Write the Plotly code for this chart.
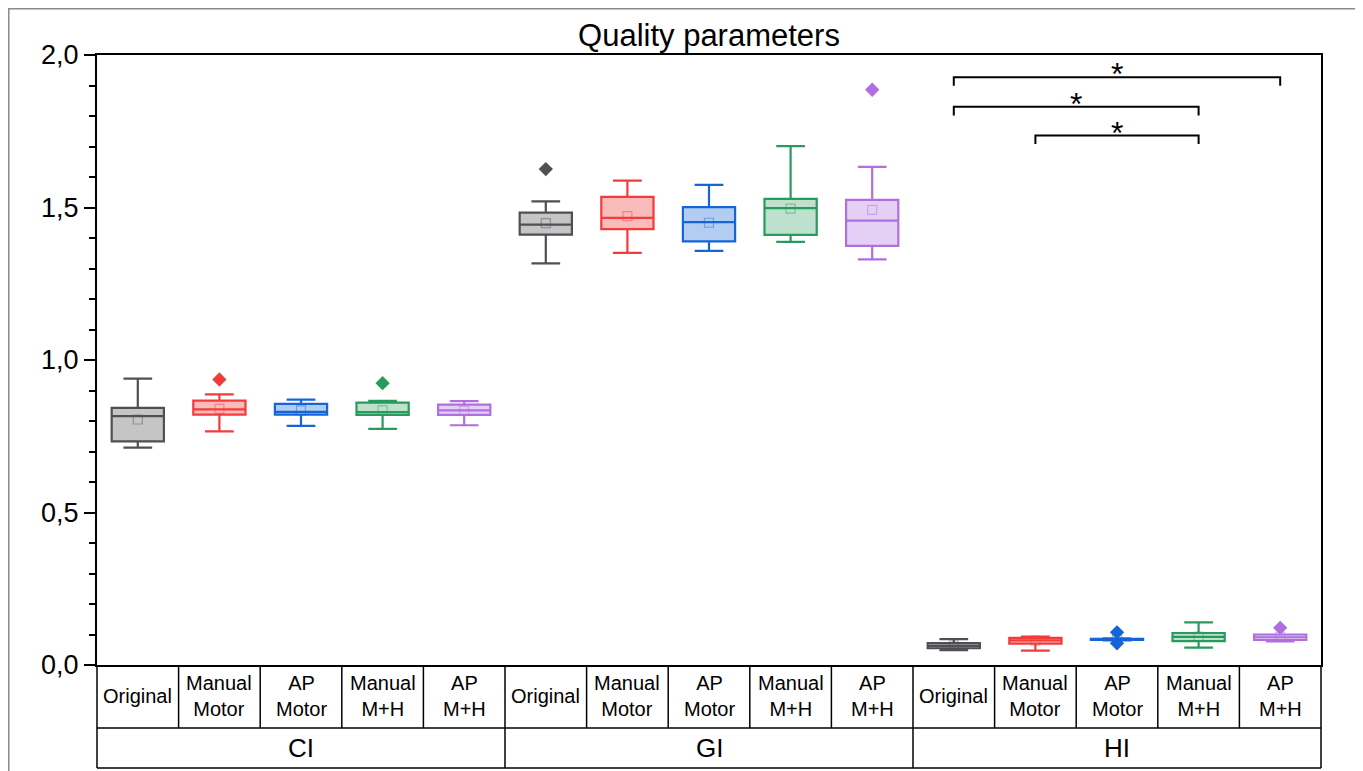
import plotly.graph_objects as go

# ---------------- data ----------------
groups = ["CI", "GI", "HI"]
methods = ["Original", "Manual<br>Motor", "AP<br>Motor", "Manual<br>M+H", "AP<br>M+H"]

# per group, per method (order: Original, Manual Motor, AP Motor, Manual M+H, AP M+H)
ci_lower  = [0.713, 0.766, 0.784, 0.774, 0.786]
ci_q1     = [0.733, 0.821, 0.821, 0.820, 0.820]
ci_median = [0.816, 0.838, 0.830, 0.829, 0.835]
ci_q3     = [0.843, 0.867, 0.856, 0.860, 0.854]
ci_upper  = [0.939, 0.887, 0.870, 0.866, 0.865]
ci_mean   = [0.805, 0.840, 0.835, 0.835, 0.833]

gi_lower  = [1.317, 1.351, 1.358, 1.387, 1.330]
gi_q1     = [1.411, 1.429, 1.389, 1.410, 1.374]
gi_median = [1.444, 1.466, 1.452, 1.498, 1.457]
gi_q3     = [1.483, 1.535, 1.501, 1.528, 1.525]
gi_upper  = [1.520, 1.588, 1.574, 1.701, 1.633]
gi_mean   = [1.449, 1.472, 1.450, 1.496, 1.492]

hi_lower  = [0.049, 0.047, 0.081, 0.057, 0.077]
hi_q1     = [0.055, 0.070, 0.082, 0.078, 0.082]
hi_median = [0.063, 0.081, 0.084, 0.092, 0.091]
hi_q3     = [0.072, 0.089, 0.086, 0.105, 0.100]
hi_upper  = [0.085, 0.093, 0.087, 0.140, 0.100]
hi_mean   = [0.064, 0.080, 0.084, 0.093, 0.092]

# outliers: (group index, method index, value)
out_group  = [0, 0, 1, 1, 2, 2, 2]
out_method = [1, 3, 0, 4, 2, 2, 4]
out_value  = [0.936, 0.924, 1.626, 1.886, 0.107, 0.071, 0.122]

# significance brackets in HI group: (from method, to method, height)
sig_from   = [0, 0, 1]
sig_to     = [4, 3, 3]
sig_height = [1.927, 1.830, 1.736]
sig_label  = ["*", "*", "*"]

line_colors = ["#4f4f55", "#f23c3c", "#1565d8", "#279b5c", "#b06fe0"]
fill_colors = ["rgba(150,150,150,0.55)", "rgba(242,60,60,0.35)", "rgba(21,101,216,0.33)",
               "rgba(39,155,92,0.30)", "rgba(176,111,224,0.33)"]

stats = {
    0: (ci_lower, ci_q1, ci_median, ci_q3, ci_upper, ci_mean),
    1: (gi_lower, gi_q1, gi_median, gi_q3, gi_upper, gi_mean),
    2: (hi_lower, hi_q1, hi_median, hi_q3, hi_upper, hi_mean),
}

FONT = "Liberation Sans, Arial, sans-serif"
nM = len(methods)
nC = len(groups) * nM

fig = go.Figure()

for g in range(len(groups)):
    lo, q1, me, q3, up, mn = stats[g]
    for m in range(nM):
        pos = g * nM + m
        fig.add_trace(go.Box(
            x=[pos], q1=[q1[m]], median=[me[m]], q3=[q3[m]],
            lowerfence=[lo[m]], upperfence=[up[m]],
            boxpoints=False, width=0.64, whiskerwidth=0.55,
            line=dict(color=line_colors[m], width=2.2),
            fillcolor=fill_colors[m], showlegend=False, hoverinfo="skip",
        ))
        fig.add_trace(go.Scatter(
            x=[pos], y=[mn[m]], mode="markers",
            marker=dict(symbol="square-open", size=9, color=line_colors[m],
                        opacity=0.45, line=dict(width=1.2)),
            showlegend=False, hoverinfo="skip",
        ))

# outliers
for g, m, v in zip(out_group, out_method, out_value):
    fig.add_trace(go.Scatter(
        x=[g * nM + m], y=[v], mode="markers",
        marker=dict(symbol="diamond", size=11, color=line_colors[m]),
        showlegend=False, hoverinfo="skip",
    ))

# significance brackets
drop = 0.028
hi_off = 2 * nM
for a, b, h, lab in zip(sig_from, sig_to, sig_height, sig_label):
    xa, xb = hi_off + a, hi_off + b
    fig.add_trace(go.Scatter(
        x=[xa, xa, xb, xb], y=[h - drop, h, h, h - drop], mode="lines",
        line=dict(color="black", width=2), showlegend=False, hoverinfo="skip",
    ))
    fig.add_annotation(x=(xa + xb) / 2, y=h, xref="x", yref="y", text=lab,
                       showarrow=False, yanchor="bottom", yshift=-17,
                       font=dict(family=FONT, size=32, color="black"))

# ---------------- layout geometry (page has an 8px body margin) ----------------
FIG_W, FIG_H = 1355, 763
M_L, M_R, M_T, M_B = 89, 42, 47, 106
plot_w = FIG_W - M_L - M_R
plot_h = FIG_H - M_T - M_B

def py(px):  # pixel offset below axis bottom -> paper y
    return -px / plot_h

row1_bot = py(63)
row2_bot = py(103)
shapes = []
lc = dict(color="black", width=1.5)
for k in range(nC + 1):
    xp = k / nC
    y1 = row2_bot if k % nM == 0 else row1_bot
    shapes.append(dict(type="line", xref="paper", yref="paper", x0=xp, x1=xp, y0=0, y1=y1, line=lc))
for yv in [row1_bot, row2_bot]:
    shapes.append(dict(type="line", xref="paper", yref="paper", x0=0, x1=1, y0=yv, y1=yv, line=lc))

# outer gray border
shapes.append(dict(type="rect", xref="paper", yref="paper",
                   x0=(0.8 - M_L) / plot_w, x1=(1348 - M_L) / plot_w,
                   y0=py(120), y1=1 + (M_T - 0.8) / plot_h,
                   line=dict(color="#8a8a8a", width=1.5)))

for g in range(len(groups)):
    for m in range(nM):
        fig.add_annotation(x=g * nM + m, y=py(31), xref="x", yref="paper", text=methods[m],
                           showarrow=False, yanchor="middle",
                           font=dict(family=FONT, size=20, color="black"))
    fig.add_annotation(x=g * nM + (nM - 1) / 2, y=py(83), xref="x", yref="paper", text=groups[g],
                       showarrow=False, yanchor="middle",
                       font=dict(family=FONT, size=26, color="black"))

fig.update_layout(
    width=FIG_W, height=FIG_H,
    margin=dict(l=M_L, r=M_R, t=M_T, b=M_B),
    paper_bgcolor="white", plot_bgcolor="white",
    separators=",.",
    shapes=shapes,
    title=dict(text="Quality parameters", x=0.5, xref="paper", xanchor="center",
               y=1 - 27 / FIG_H, yref="container", yanchor="middle",
               font=dict(family=FONT, size=31, color="black")),
    font=dict(family=FONT, color="black"),
    showlegend=False,
)
fig.update_xaxes(range=[-0.5, nC - 0.5], showticklabels=False, ticks="", showgrid=False,
                 zeroline=False, showline=True, linecolor="black", linewidth=2, mirror=True)
fig.update_yaxes(range=[0, 2], tickvals=[0, 0.5, 1.0, 1.5, 2.0], tickformat=".1f",
                 ticks="outside", ticklen=11, tickwidth=2, tickcolor="black",
                 minor=dict(dtick=0.1, ticks="outside", ticklen=6, tickwidth=2, tickcolor="black"),
                 showgrid=False, zeroline=False, showline=True, linecolor="black", linewidth=2,
                 mirror=True, tickfont=dict(family=FONT, size=27, color="black"))

fig.write_html("out.html")
